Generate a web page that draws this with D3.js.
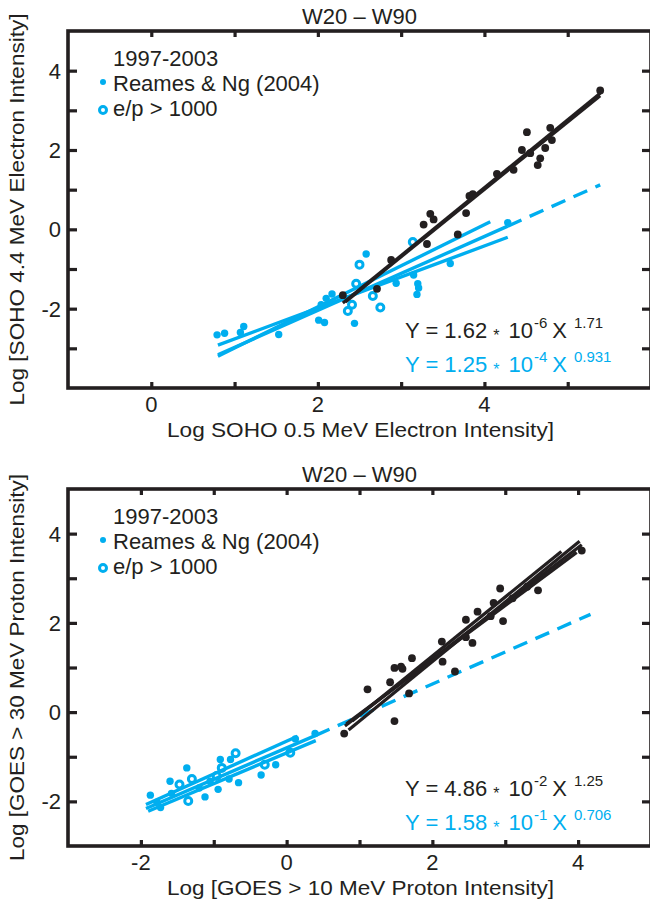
<!DOCTYPE html>
<html>
<head>
<meta charset="utf-8">
<script src="https://cdn.jsdelivr.net/npm/d3@7"></script>
<style>
  body { margin: 0; background: #fff; }
  text { font-family: "Liberation Sans", Arial, Helvetica, sans-serif; fill: #231f20; }
</style>
</head>
<body>
<svg id="chart" width="650" height="901"></svg>
<script>
const blue = "#00aeef";
const black = "#231f20";

// ---- top panel: SOHO electrons ----
const topBlack = [
  [2.30,-1.66],[2.71,-1.50],[2.88,-0.77],[3.27,0.12],[3.31,-0.37],[3.35,0.39],[3.39,0.25],
  [3.68,-0.13],[3.78,0.41],[3.82,0.84],[3.86,0.89],[4.15,1.40],[4.35,1.50],[4.45,2.00],
  [4.51,2.45],[4.55,1.92],[4.64,1.62],[4.67,1.79],[4.73,2.05],[4.79,2.56],[4.81,2.25],[5.39,3.50]
];
const topBlueFilled = [
  [0.79,-2.66],[0.88,-2.62],[1.07,-2.60],[1.11,-2.45],[1.53,-2.65],[2.01,-2.29],[2.08,-2.35],
  [2.04,-1.90],[2.10,-1.74],[2.17,-1.63],[2.44,-2.37],[2.58,-0.62],[2.94,-1.36],[3.15,-1.15],
  [3.20,-1.37],[3.21,-1.48],[3.19,-1.64],[3.59,-0.86],[4.28,0.17]
];
const topBlueOpen = [
  [2.50,-0.89],[2.46,-1.37],[2.41,-1.90],[2.36,-2.06],[2.66,-1.68],[2.75,-1.97],[3.14,-0.32]
];
// fit segments [x1, y1, x2, y2]
const topBlackFits = [[2.30,-1.86,5.39,3.43],[2.33,-1.83,5.39,3.37]];
const topBlueFits = [[0.80,-2.92,4.28,-0.20],[0.80,-3.20,4.07,0.19],[0.80,-3.16,4.28,0.08]];
const topBlueDash = [[4.28,0.08,5.39,1.12]];
const topXTicks = [0,1,2,3,4,5];
const topXLabels = [0,2,4];
const topYTicks = [-3,-2,-1,0,1,2,3,4];
const topYLabels = [-2,0,2,4];
const topEqs = [
  { coef: "1.62", exp: "-6", pow: "1.71", color: black },
  { coef: "1.25", exp: "-4", pow: "0.931", color: blue }
];

// ---- bottom panel: GOES protons ----
const botBlack = [
  [0.79,-0.48],[1.11,0.51],[1.42,0.67],[1.48,0.99],[1.48,-0.20],[1.57,1.02],[1.59,0.97],
  [1.68,0.42],[1.72,1.21],[2.13,1.58],[2.14,1.13],[2.31,0.91],[2.46,2.07],[2.46,1.68],
  [2.55,1.55],[2.62,2.25],[2.80,2.15],[2.84,2.45],[2.93,2.77],[2.97,2.04],[3.10,2.55],
  [3.30,2.81],[3.45,2.73],[4.05,3.62]
];
const botBlueFilled = [
  [-1.87,-1.86],[-1.73,-2.14],[-1.78,-2.02],[-1.60,-1.55],[-1.58,-1.82],[-1.37,-1.25],
  [-1.20,-1.70],[-1.12,-1.90],[-1.05,-1.55],[-0.94,-1.73],[-0.91,-1.06],[-0.79,-1.50],
  [-0.77,-1.06],[-0.66,-1.58],[-0.35,-1.41],[-0.15,-1.18],[0.12,-0.60],[0.39,-0.48]
];
const botBlueOpen = [
  [-0.70,-0.92],[-0.89,-1.25],[-0.96,-1.43],[-1.30,-1.50],[-1.47,-1.62],[-1.35,-1.99],
  [-0.30,-1.18],[0.05,-0.91]
];
const botBlackFits = [[0.80,-0.31,4.05,3.75],[0.85,-0.40,4.02,3.83],[0.82,-0.26,3.98,3.58],[0.90,-0.20,3.77,3.60]];
const botBlueFits = [[-1.93,-2.16,0.40,-0.52],[-1.93,-2.07,0.15,-0.54],[-1.90,-2.22,0.40,-0.64]];
const botBlueDash = [[0.40,-0.52,4.17,2.19]];
const botXTicks = [-2,-1,0,1,2,3,4];
const botXLabels = [-2,0,2,4];
const botYTicks = [-2,-1,0,1,2,3,4];
const botYLabels = [-2,0,2,4];
const botEqs = [
  { coef: "4.86", exp: "-2", pow: "1.25", color: black },
  { coef: "1.58", exp: "-1", pow: "0.706", color: blue }
];

const legendLines = ["1997-2003", "Reames & Ng (2004)", "e/p > 1000"];

const svg = d3.select("#chart");

function drawPanel(p) {
  const g = svg.append("g");
  const x = d3.scaleLinear().domain(p.xDomain).range([p.left, p.right]);
  const y = d3.scaleLinear().domain(p.yDomain).range([p.bottom, p.top]);

  // title
  g.append("text").attr("x", (p.left + p.right) / 2).attr("y", p.top - 7)
    .attr("text-anchor", "middle").style("font-size", "22px").text("W20 \u2013 W90");

  // fit lines
  const seg = (sel, data, color, width, dash) => sel.selectAll(null).data(data).enter().append("line")
    .attr("x1", d => x(d[0])).attr("y1", d => y(d[1]))
    .attr("x2", d => x(d[2])).attr("y2", d => y(d[3]))
    .attr("stroke", color).attr("stroke-width", width)
    .attr("stroke-dasharray", dash || null);

  seg(g, p.blueDash, blue, 3.4, "15,9");
  seg(g, p.blueFits, blue, 3.4);

  // points
  g.selectAll(null).data(p.blueFilled).enter().append("circle")
    .attr("cx", d => x(d[0])).attr("cy", d => y(d[1])).attr("r", 3.7).attr("fill", blue);
  g.selectAll(null).data(p.blueOpen).enter().append("circle")
    .attr("cx", d => x(d[0])).attr("cy", d => y(d[1])).attr("r", 3.5)
    .attr("fill", "none").attr("stroke", blue).attr("stroke-width", 3);
  g.selectAll(null).data(p.blackPts).enter().append("circle")
    .attr("cx", d => x(d[0])).attr("cy", d => y(d[1])).attr("r", 3.9).attr("fill", black);

  seg(g, p.blackFits, black, 3.2);

  // frame + inward ticks
  g.append("rect").attr("x", p.left).attr("y", p.top)
    .attr("width", p.right - p.left).attr("height", p.bottom - p.top)
    .attr("fill", "none").attr("stroke", black).attr("stroke-width", 3.6);

  const bottomAxis = d3.axisBottom(x).tickValues(p.xTicks).tickSize(-6).tickFormat("");
  const topAxis = d3.axisTop(x).tickValues(p.xTicks).tickSize(-6).tickFormat("");
  const leftAxis = d3.axisLeft(y).tickValues(p.yTicks).tickSize(-9).tickFormat("");
  const rightAxis = d3.axisRight(y).tickValues(p.yTicks).tickSize(-9).tickFormat("");
  [[bottomAxis, `translate(0,${p.bottom})`], [topAxis, `translate(0,${p.top})`],
   [leftAxis, `translate(${p.left},0)`], [rightAxis, `translate(${p.right},0)`]].forEach(([ax, tr]) => {
    const a = g.append("g").attr("transform", tr).call(ax);
    a.select(".domain").remove();
    a.selectAll(".tick line").attr("stroke", black).attr("stroke-width", 3.2);
  });

  // tick labels
  g.selectAll(null).data(p.xLabels).enter().append("text")
    .attr("x", d => x(d)).attr("y", p.bottom + 24).attr("text-anchor", "middle")
    .style("font-size", "22px").text(d => d);
  g.selectAll(null).data(p.yLabels).enter().append("text")
    .attr("x", p.left - 7).attr("y", d => y(d)).attr("dy", "0.36em").attr("text-anchor", "end")
    .style("font-size", "22px").text(d => d);

  // axis titles
  g.append("text").attr("x", (p.left + p.right) / 2 + 1).attr("y", p.bottom + 49)
    .attr("text-anchor", "middle").style("font-size", "21px")
    .attr("textLength", 387).attr("lengthAdjust", "spacingAndGlyphs").text(p.xTitle);
  g.append("text").attr("transform", `translate(24,${(p.top + p.bottom) / 2}) rotate(-90)`)
    .attr("text-anchor", "middle").style("font-size", "21px")
    .attr("textLength", p.yTitleLen).attr("lengthAdjust", "spacingAndGlyphs").text(p.yTitle);

  // legend
  g.selectAll(null).data(legendLines).enter().append("text")
    .attr("x", 113).attr("y", (d, i) => p.top + 35 + i * 25)
    .style("font-size", "22px").text(d => d);
  g.append("circle").attr("cx", 103).attr("cy", p.top + 51).attr("r", 3).attr("fill", blue);
  g.append("circle").attr("cx", 103).attr("cy", p.top + 79).attr("r", 3.5)
    .attr("fill", "none").attr("stroke", blue).attr("stroke-width", 3);

  // fit equations
  p.eqs.forEach((e, i) => {
    const t = g.append("text").attr("x", 405).attr("y", p.bottom - 50 + i * 34)
      .style("font-size", "22px");
    t.append("tspan").style("fill", e.color).text("Y = " + e.coef);
    t.append("tspan").style("fill", e.color).style("font-size", "16px").attr("dx", 6).attr("dy", 3).text("*");
    t.append("tspan").style("fill", e.color).attr("dx", 9).attr("dy", -3).text("10");
    t.append("tspan").style("fill", e.color).style("font-size", "15px").attr("dx", 1).attr("dy", -10).text(e.exp);
    t.append("tspan").style("fill", e.color).attr("dx", 5).attr("dy", 10).text("X");
    t.append("tspan").style("fill", e.color).style("font-size", "15px").attr("dx", 7).attr("dy", -10).text(e.pow);
  });
}

drawPanel({
  left: 68, right: 651, top: 31, bottom: 388,
  xDomain: [-1, 6], yDomain: [-4, 5],
  blackPts: topBlack, blueFilled: topBlueFilled, blueOpen: topBlueOpen,
  blackFits: topBlackFits, blueFits: topBlueFits, blueDash: topBlueDash,
  xTicks: topXTicks, xLabels: topXLabels, yTicks: topYTicks, yLabels: topYLabels,
  xTitle: "Log SOHO 0.5 MeV Electron Intensity]",
  yTitle: "Log [SOHO 4.4 MeV Electron Intensity]", yTitleLen: 392,
  eqs: topEqs
});

drawPanel({
  left: 68, right: 651, top: 489, bottom: 846,
  xDomain: [-3, 5], yDomain: [-3, 5],
  blackPts: botBlack, blueFilled: botBlueFilled, blueOpen: botBlueOpen,
  blackFits: botBlackFits, blueFits: botBlueFits, blueDash: botBlueDash,
  xTicks: botXTicks, xLabels: botXLabels, yTicks: botYTicks, yLabels: botYLabels,
  xTitle: "Log [GOES > 10 MeV Proton Intensity]",
  yTitle: "Log [GOES > 30 MeV Proton Intensity]", yTitleLen: 387,
  eqs: botEqs
});
</script>
</body>
</html>
